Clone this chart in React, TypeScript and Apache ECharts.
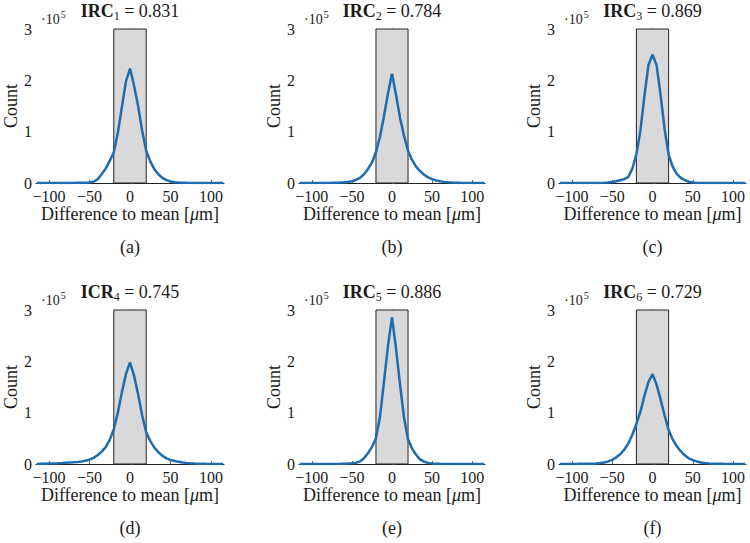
import React, { useEffect, useRef } from "react";
import * as echarts from "echarts";

// x positions (difference to mean, µm)
const X = [-115, -110, -105, -100, -95, -90, -85, -80, -75, -70, -65, -60, -55, -50, -45, -40, -35, -30, -25, -20, -15, -10, -5, 0, 5, 10, 15, 20, 25, 30, 35, 40, 45, 50, 55, 60, 65, 70, 75, 80, 85, 90, 95, 100, 105, 110, 115];

// counts in units of 10^5
const A = [0, 0, 0, 0, 0, 0, 0, 0.001, 0.001, 0.002, 0.003, 0.004, 0.007, 0.012, 0.025, 0.07, 0.17, 0.28, 0.43, 0.6, 0.98, 1.48, 1.98, 2.23, 1.9, 1.5, 1.02, 0.63, 0.42, 0.27, 0.17, 0.1, 0.055, 0.03, 0.016, 0.009, 0.005, 0.003, 0.002, 0.001, 0, 0, 0, 0, 0, 0, 0];
const B = [0, 0, 0, 0, 0.001, 0.001, 0.002, 0.002, 0.003, 0.005, 0.008, 0.012, 0.02, 0.035, 0.06, 0.1, 0.17, 0.27, 0.4, 0.6, 0.9, 1.3, 1.75, 2.13, 1.72, 1.27, 0.92, 0.63, 0.45, 0.32, 0.23, 0.16, 0.11, 0.075, 0.05, 0.035, 0.022, 0.014, 0.009, 0.005, 0.003, 0.002, 0.001, 0.001, 0, 0, 0];
const C = [0, 0, 0, 0, 0, 0, 0, 0, 0, 0, 0.001, 0.003, 0.008, 0.018, 0.035, 0.055, 0.075, 0.12, 0.28, 0.56, 1.02, 1.7, 2.3, 2.5, 2.3, 1.72, 1.05, 0.55, 0.32, 0.18, 0.1, 0.055, 0.025, 0.01, 0.004, 0.002, 0.001, 0, 0, 0, 0, 0, 0, 0, 0, 0, 0];
const D = [0, 0.003, 0.005, 0.008, 0.01, 0.013, 0.017, 0.022, 0.027, 0.032, 0.04, 0.05, 0.065, 0.085, 0.12, 0.17, 0.24, 0.33, 0.47, 0.68, 1.0, 1.4, 1.75, 1.98, 1.72, 1.36, 0.95, 0.62, 0.45, 0.32, 0.23, 0.16, 0.11, 0.08, 0.06, 0.042, 0.03, 0.02, 0.014, 0.01, 0.007, 0.005, 0.003, 0.002, 0.001, 0.001, 0];
const E = [0, 0, 0, 0, 0, 0, 0.001, 0.001, 0.001, 0.002, 0.003, 0.005, 0.008, 0.013, 0.025, 0.05, 0.11, 0.21, 0.33, 0.5, 0.92, 1.6, 2.3, 2.86, 2.25, 1.55, 0.9, 0.48, 0.3, 0.18, 0.09, 0.045, 0.022, 0.012, 0.007, 0.004, 0.002, 0.001, 0.001, 0, 0, 0, 0, 0, 0, 0, 0];
const F = [0.001, 0.001, 0.001, 0.002, 0.002, 0.003, 0.004, 0.005, 0.007, 0.01, 0.018, 0.03, 0.05, 0.08, 0.13, 0.19, 0.28, 0.4, 0.57, 0.78, 1.02, 1.33, 1.6, 1.75, 1.55, 1.26, 0.95, 0.66, 0.48, 0.35, 0.25, 0.17, 0.11, 0.075, 0.05, 0.03, 0.018, 0.01, 0.006, 0.004, 0.003, 0.002, 0.001, 0.001, 0.001, 0, 0];

const SERIES = [A, B, C, D, E, F];
const TITLE_NAMES = ["IRC", "IRC", "IRC", "ICR", "IRC", "IRC"];
const TITLE_SUBS = ["1", "2", "3", "4", "5", "6"];
const TITLE_VALUES = ["0.831", "0.784", "0.869", "0.745", "0.886", "0.729"];
const PANEL_LABELS = ["(a)", "(b)", "(c)", "(d)", "(e)", "(f)"];
const X_TICKS = [-100, -50, 0, 50, 100];
const BAND = [-20, 20];

const FONT = "Liberation Serif";
const COL_LEFT = [36, 299, 559];
const COL_WIDTH = [188, 186, 187];
const ROW_TOP = [29, 310];
const PLOT_H = 154;
const LINE_COLOR = "#1c6cb2";
const TEXT = "#1a1a1a";

function measure(text: string, font: string): number {
  const ctx = document.createElement("canvas").getContext("2d");
  if (!ctx) return text.length * 8;
  ctx.font = font;
  return ctx.measureText(text).width;
}

export default function App() {
  const ref = useRef<HTMLDivElement>(null);
  useEffect(() => {
    const chart = echarts.init(ref.current!, null, { renderer: "svg" });
    const grids: any[] = [];
    const xAxes: any[] = [];
    const yAxes: any[] = [];
    const series: any[] = [];
    const graphics: any[] = [];
    SERIES.forEach((vals, i) => {
      const col = i % 3;
      const row = Math.floor(i / 3);
      const left = COL_LEFT[col];
      const width = COL_WIDTH[col];
      const top = ROW_TOP[row];
      const cx = left + width / 2;
      grids.push({ left, top, width, height: PLOT_H, containLabel: false });
      xAxes.push({
        type: "value",
        gridIndex: i,
        min: -116,
        max: 116,
        axisLine: { show: true, onZero: false, lineStyle: { color: "#222", width: 1 } },
        axisTick: { show: true, inside: true, length: 3, customValues: X_TICKS, lineStyle: { color: "#666" } },
        axisLabel: {
          customValues: X_TICKS,
          margin: 5,
          fontFamily: FONT,
          fontSize: 16,
          color: TEXT,
          formatter: (v: number) => (v < 0 ? "\u2212" + Math.abs(v) : String(v)),
        },
        splitLine: { show: false },
      });
      yAxes.push({
        type: "value",
        gridIndex: i,
        min: 0,
        max: 3,
        interval: 1,
        axisLine: { show: true, lineStyle: { color: "#222", width: 1 } },
        axisTick: { show: true, inside: true, length: 3, lineStyle: { color: "#666" } },
        axisLabel: { margin: 4, fontFamily: FONT, fontSize: 16, color: TEXT },
        splitLine: { show: false },
      });
      series.push({
        type: "line",
        xAxisIndex: i,
        yAxisIndex: i,
        data: [],
        z: 1,
        silent: true,
        markArea: {
          silent: true,
          itemStyle: { color: "#d9d9d9", borderColor: "#222", borderWidth: 1 },
          data: [[{ coord: [BAND[0], 0] }, { coord: [BAND[1], 3] }]],
        },
      });
      series.push({
        type: "line",
        xAxisIndex: i,
        yAxisIndex: i,
        z: 3,
        showSymbol: false,
        smooth: false,
        lineStyle: { color: LINE_COLOR, width: 2.5 },
        itemStyle: { color: LINE_COLOR },
        data: X.map((x, k) => [x, vals[k]]),
      });
      // title, laid out piece by piece
      const fB = `bold 18px ${FONT}`;
      const fS = `12px ${FONT}`;
      const fN = `18px ${FONT}`;
      const tN = ` = ${TITLE_VALUES[i]}`;
      const wB = measure(TITLE_NAMES[i], fB);
      const wS = measure(TITLE_SUBS[i], fS);
      const wN = measure(tN, fN);
      const x0 = cx - (wB + wS + wN) / 2;
      const ty = top - 18;
      graphics.push({
        type: "text",
        x: x0,
        y: ty,
        style: { text: TITLE_NAMES[i], fontFamily: FONT, fontSize: 18, fontWeight: "bold", fill: TEXT, align: "left", verticalAlign: "middle" },
      });
      graphics.push({
        type: "text",
        x: x0 + wB,
        y: ty + 5,
        style: { text: TITLE_SUBS[i], fontFamily: FONT, fontSize: 12, fill: TEXT, align: "left", verticalAlign: "middle" },
      });
      graphics.push({
        type: "text",
        x: x0 + wB + wS,
        y: ty,
        style: { text: tN, fontFamily: FONT, fontSize: 18, fill: TEXT, align: "left", verticalAlign: "middle" },
      });
      // ·10^5
      const w10 = measure("\u00b710", `14px ${FONT}`);
      graphics.push({
        type: "text",
        x: left + 5,
        y: top - 10,
        style: { text: "\u00b710", fontFamily: FONT, fontSize: 14, fill: TEXT, align: "left", verticalAlign: "middle" },
      });
      graphics.push({
        type: "text",
        x: left + 6 + w10,
        y: top - 15,
        style: { text: "5", fontFamily: FONT, fontSize: 10, fill: TEXT, align: "left", verticalAlign: "middle" },
      });
      // y label
      graphics.push({
        type: "text",
        x: left - 25,
        y: top + PLOT_H / 2,
        rotation: Math.PI / 2,
        style: { text: "Count", fontFamily: FONT, fontSize: 18, fill: TEXT, align: "center", verticalAlign: "middle" },
      });
      // x label
      graphics.push({
        type: "text",
        x: cx,
        y: top + PLOT_H + 31,
        style: {
          text: "{n|Difference to mean [}{i|\u03bc}{n|m]}",
          align: "center",
          verticalAlign: "middle",
          rich: {
            n: { fontFamily: FONT, fontSize: 18, fill: TEXT },
            i: { fontFamily: FONT, fontSize: 18, fontStyle: "italic", fill: TEXT },
          },
        },
      });
      // panel label
      graphics.push({
        type: "text",
        x: cx,
        y: top + PLOT_H + 64,
        style: { text: PANEL_LABELS[i], fontFamily: FONT, fontSize: 18, fill: TEXT, align: "center", verticalAlign: "middle" },
      });
    });
    chart.setOption({
      animation: false,
      backgroundColor: "#ffffff",
      grid: grids,
      xAxis: xAxes,
      yAxis: yAxes,
      series,
      graphic: graphics,
    });
    return () => chart.dispose();
  }, []);
  return <div ref={ref} style={{ position: "absolute", left: 0, top: 0, width: 750, height: 543 }} />;
}
